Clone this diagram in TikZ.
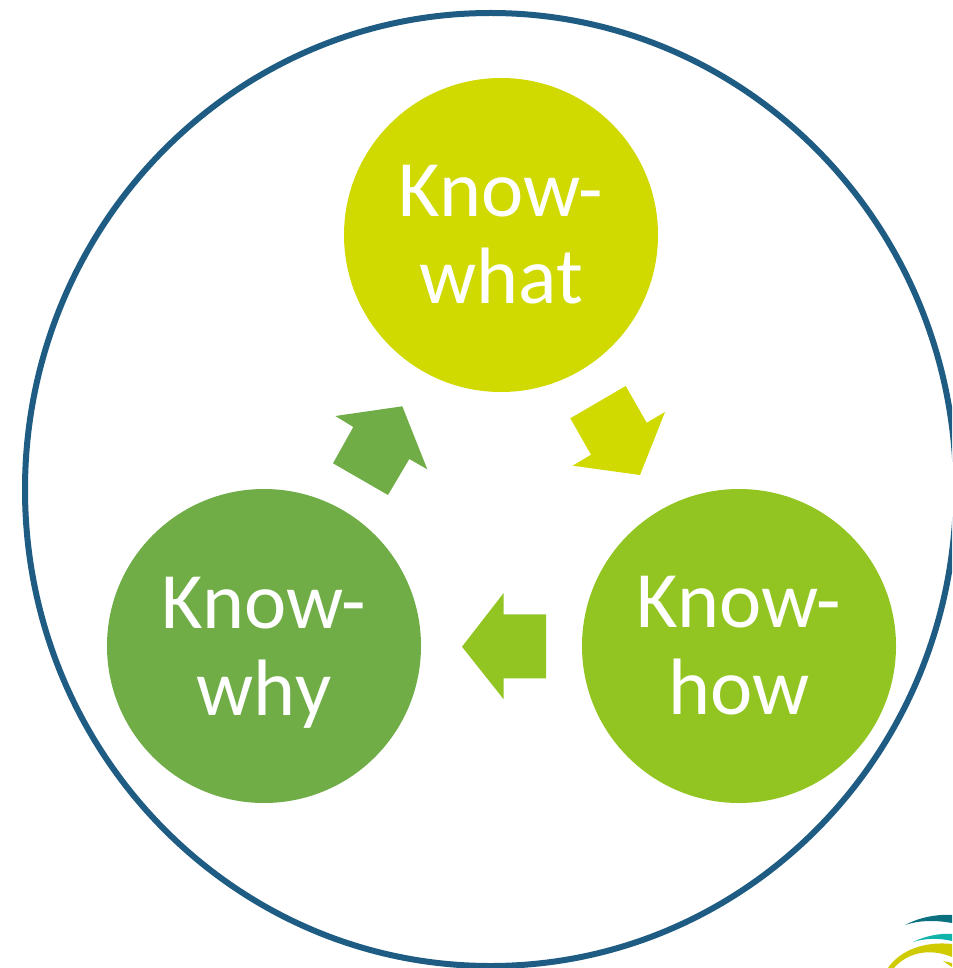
\documentclass[tikz,border=0pt]{standalone}
\usepackage{fontspec}
\setmainfont{Carlito}
\definecolor{ring}{HTML}{1F5C84}
\definecolor{cwhat}{HTML}{D0D900}
\definecolor{chow}{HTML}{93C522}
\definecolor{cwhy}{HTML}{70AD47}
\definecolor{logoa}{HTML}{0B7180}
\definecolor{logob}{HTML}{0FB3A9}
\definecolor{logoc}{HTML}{CFCB00}
\tikzset{
  know/.style={circle,minimum size=314pt,inner sep=0pt,outer sep=0pt,text=white,align=center,
    font=\fontsize{80pt}{87pt}\selectfont},
  flow/.style={draw=none}
}
\begin{document}
\begin{tikzpicture}[x=1pt,y=-1pt]
\useasboundingbox (0,0) rectangle (952,968);
\begin{scope}
\clip (0,0) rectangle (952,968);
\fill[white] (0,0) rectangle (952,968);
\draw[ring,line width=6pt] (490.5,489.5) ellipse [x radius=465.5pt,y radius=476.5pt];
\node[know,fill=cwhat] (what) at (501,235) {Know-\\what};
\node[know,fill=chow] (how) at (739,646) {Know-\\how};
\node[know,fill=cwhy] (why) at (264,646) {Know-\\wh\smash{y}};
\fill[flow,cwhat] (625.7,386) -- (646.7,422.7) -- (665,412) -- (640,475) -- (572.7,465.7) -- (591,454.7) -- (570.3,418.3) -- cycle;
\fill[flow,chow] (462,646.7) -- (503.7,593) -- (503.7,614.3) -- (546,614.3) -- (546,678.3) -- (503.7,678.3) -- (503.7,699.3) -- cycle;
\fill[flow,cwhy] (402.3,406.3) -- (427.3,469.3) -- (409.3,459) -- (388,495) -- (333,463.3) -- (353.3,427) -- (335.3,416) -- cycle;
\fill[logoa] (905,925) .. controls (918,918) and (935,914) .. (952,915) -- (952,923) .. controls (935,920) and (920,920) .. (905,925) -- cycle;
\fill[logob] (913,942) .. controls (925,936) and (940,933) .. (952,934) -- (952,941) .. controls (940,938) and (925,938) .. (913,942) -- cycle;
\fill[logoc] (888,968) .. controls (900,950) and (925,941) .. (952,944) -- (952,957) .. controls (930,948) and (908,952) .. (894,968) -- cycle;
\fill[logoc] (943,961) -- (952,963) -- (952,967) -- cycle;
\end{scope}
\end{tikzpicture}
\end{document}
